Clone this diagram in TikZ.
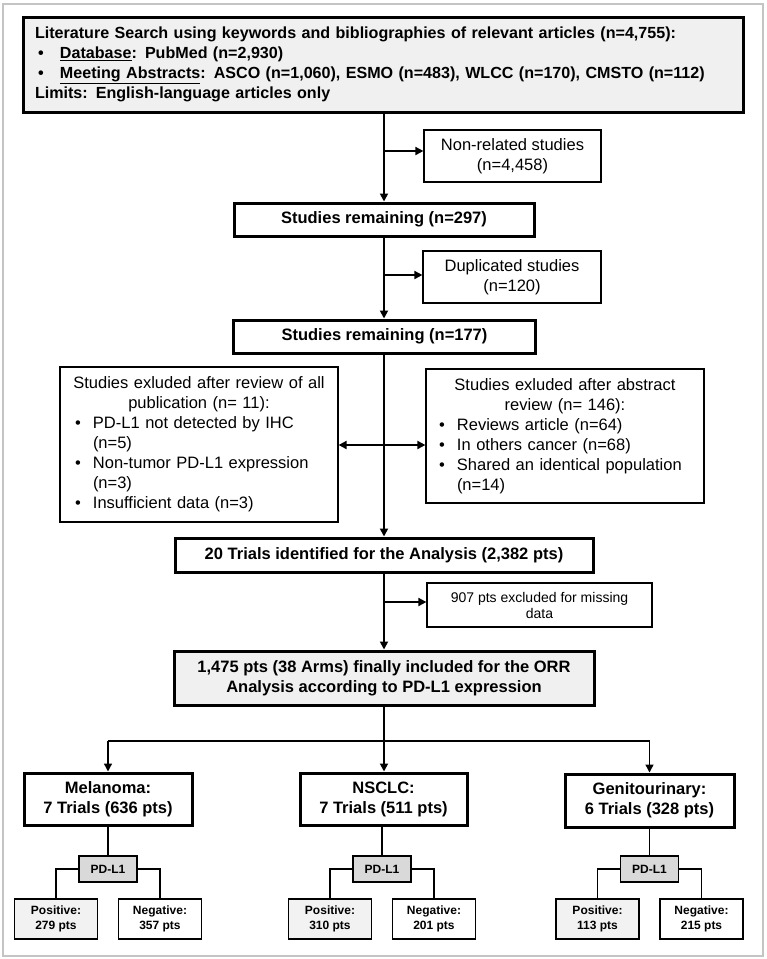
\documentclass[tikz,border=0pt]{standalone}
\usepackage{fontspec}
\setmainfont{Liberation Sans}
\usepackage{tikz}
\usetikzlibrary{calc}
\usetikzlibrary{positioning}
\usetikzlibrary{arrows.meta}
\definecolor{boxgray}{HTML}{F0F0F0}
\definecolor{pdgray}{HTML}{D9D9D9}
\definecolor{posgray}{HTML}{F2F2F2}
\definecolor{framegray}{HTML}{C4C4C4}
\tikzstyle{thinbox} = [draw, line width=1.2pt, inner sep=0pt, align=center, font=\fontsize{16.5}{20}\selectfont]
\tikzstyle{thickbox} = [draw, line width=3pt, inner sep=0pt, align=center, font=\bfseries\fontsize{16.5}{20}\selectfont]
\tikzstyle{pdbox} = [draw, line width=1.2pt, fill=pdgray, inner sep=0pt, minimum width=58pt, minimum height=26pt, font=\bfseries\fontsize{12}{15}\selectfont]
\tikzstyle{ptsbox} = [draw, line width=1.2pt, inner sep=0pt, align=center, minimum width=83pt, minimum height=40pt, font=\bfseries\fontsize{12}{15}\selectfont]
\tikzstyle{arr} = [line width=1.8pt, -{Triangle[length=8pt,width=8pt]}]
\tikzstyle{arrthin} = [line width=1.4pt, -{Triangle[length=8pt,width=8pt]}]
\tikzstyle{dblarr} = [line width=1.8pt, {Triangle[length=8pt,width=8pt]}-{Triangle[length=8pt,width=8pt]}]
\tikzstyle{link} = [line width=1.3pt]
\newcommand{\topbul}{\hspace*{3pt}\makebox[22pt][l]{\textbullet}}
\newcommand{\itm}{\hspace*{4pt}\makebox[18pt][l]{\textbullet}}
\newcommand{\cont}{\hspace*{22pt}}

\begin{document}
\begin{tikzpicture}[x=1pt, y=-1pt]
    \useasboundingbox (0,0) rectangle (767,959);
    \draw[framegray, line width=1.2pt] (3,4) rectangle (763,956);

    % search and screening
    \node[thickbox, fill=boxgray, minimum width=720pt, minimum height=95pt, text width=696pt, align=left, font=\bfseries\fontsize{16.1}{20}\selectfont] (search) at (383,64.5) {Literature Search using keywords and bibliographies of relevant articles (n=4,755):\\
        \topbul\underline{Database}: PubMed (n=2,930)\\
        \topbul\underline{Meeting Abstracts}: ASCO (n=1,060), ESMO (n=483), WLCC (n=170), CMSTO (n=112)\\
        Limits: English-language articles only};
    \node[thinbox, minimum width=177pt, minimum height=52pt] (nonrel) at (512.5,156) {Non-related studies\\(n=4,458)};
    \node[thickbox, minimum width=300pt, minimum height=33pt] (rem_297) at (384,219.5) {Studies remaining (n=297)};
    \node[thinbox, minimum width=178pt, minimum height=52pt] (dup) at (512,277) {Duplicated studies\\(n=120)};
    \node[thickbox, minimum width=302pt, minimum height=33pt] (rem_177) at (384.5,336.5) {Studies remaining (n=177)};

    \node[thinbox, minimum width=278pt, minimum height=155pt, text width=256pt, align=left] (excl_full) at (199,444.5) {\makebox[256pt]{Studies exluded after review of all}\\
        \makebox[256pt]{publication (n= 11):}\\
        \itm PD-L1 not detected by IHC\\
        \cont(n=5)\\
        \itm Non-tumor PD-L1 expression\\
        \cont(n=3)\\
        \itm Insufficient data (n=3)};
    \node[thinbox, minimum width=278pt, minimum height=134pt, text width=260pt, align=left] (excl_abs) at (565,436) {\makebox[260pt]{Studies exluded after abstract}\\
        \makebox[260pt]{review (n= 146):}\\
        \itm Reviews article (n=64)\\
        \itm In others cancer (n=68)\\
        \itm Shared an identical population\\
        \cont(n=14)};

    \node[thickbox, minimum width=418pt, minimum height=34pt] (trials_20) at (384,555) {20 Trials identified for the Analysis (2,382 pts)};
    \node[thinbox, minimum width=225pt, minimum height=44pt, font=\fontsize{14}{16}\selectfont] (excl_907) at (539.5,605) {907 pts excluded for missing\\data};
    \node[thickbox, fill=boxgray, minimum width=420pt, minimum height=54pt] (final_1475) at (384,678) {1,475 pts (38 Arms) finally included for the ORR\\Analysis according to PD-L1 expression};

    % spine
    \coordinate (jn_nonrel) at (384,151);
    \coordinate (jn_dup) at (384,275);
    \coordinate (jn_excl) at (384,445);
    \coordinate (jn_907) at (384,602);
    \draw[arr] (rem_297.north |- search.south) -- (rem_297.north);
    \draw[arr] (jn_nonrel) -- (jn_nonrel -| nonrel.west);
    \draw[arr] (rem_297.south) -- (rem_297.south |- rem_177.north);
    \draw[arr] (jn_dup) -- (jn_dup -| dup.west);
    \draw[arr] (rem_177.south -| trials_20.north) -- (trials_20.north);
    \draw[dblarr] (jn_excl -| excl_full.east) -- (jn_excl -| excl_abs.west);
    \draw[arr] (trials_20.south) -- (final_1475.north);
    \draw[arr] (jn_907) -- (jn_907 -| excl_907.west);

    % tumour groups
    \node[thickbox, minimum width=168pt, minimum height=52pt] (mel) at (108,799) {Melanoma:\\7 Trials (636 pts)};
    \node[thickbox, minimum width=167pt, minimum height=52pt] (nsclc) at (383.5,799) {NSCLC:\\7 Trials (511 pts)};
    \node[thickbox, minimum width=169pt, minimum height=53pt] (geni) at (649.5,800.5) {Genitourinary:\\6 Trials (328 pts)};

    \coordinate (split) at (384,741);
    \draw[arr] (final_1475.south) -- (final_1475.south |- nsclc.north);
    \draw[link] (mel.north |- split) -- (geni.north |- split);
    \draw[arrthin] (mel.north |- split) -- (mel.north);
    \draw[arrthin] (geni.north |- split) -- (geni.north);

    \node[pdbox] (mel_pd) at ($(mel)+(0,70)$) {PD-L1};
    \node[ptsbox, fill=posgray] (mel_pos) at ($(mel_pd)+(-52,50)$) {Positive:\\279 pts};
    \node[ptsbox] (mel_neg) at ($(mel_pd)+(52,50)$) {Negative:\\357 pts};
    \node[pdbox] (nsclc_pd) at ($(nsclc)+(-1.5,70)$) {PD-L1};
    \node[ptsbox, fill=posgray] (nsclc_pos) at ($(nsclc_pd)+(-52,50)$) {Positive:\\310 pts};
    \node[ptsbox] (nsclc_neg) at ($(nsclc_pd)+(52,50)$) {Negative:\\201 pts};
    \node[pdbox] (geni_pd) at ($(geni)+(0,68.5)$) {PD-L1};
    \node[ptsbox, fill=posgray] (geni_pos) at ($(geni_pd)+(-52,50)$) {Positive:\\113 pts};
    \node[ptsbox] (geni_neg) at ($(geni_pd)+(52,50)$) {Negative:\\215 pts};

    \draw[link] (mel) -- (mel_pd);
    \draw[link] (mel_pd.west) -| (mel_pos.north);
    \draw[link] (mel_pd.east) -| (mel_neg.north);
    \draw[link] (nsclc.south -| nsclc_pd.north) -- (nsclc_pd.north);
    \draw[link] (nsclc_pd.west) -| (nsclc_pos.north);
    \draw[link] (nsclc_pd.east) -| (nsclc_neg.north);
    \draw[link] (geni) -- (geni_pd);
    \draw[link] (geni_pd.west) -| (geni_pos.north);
    \draw[link] (geni_pd.east) -| (geni_neg.north);
\end{tikzpicture}
\end{document}
